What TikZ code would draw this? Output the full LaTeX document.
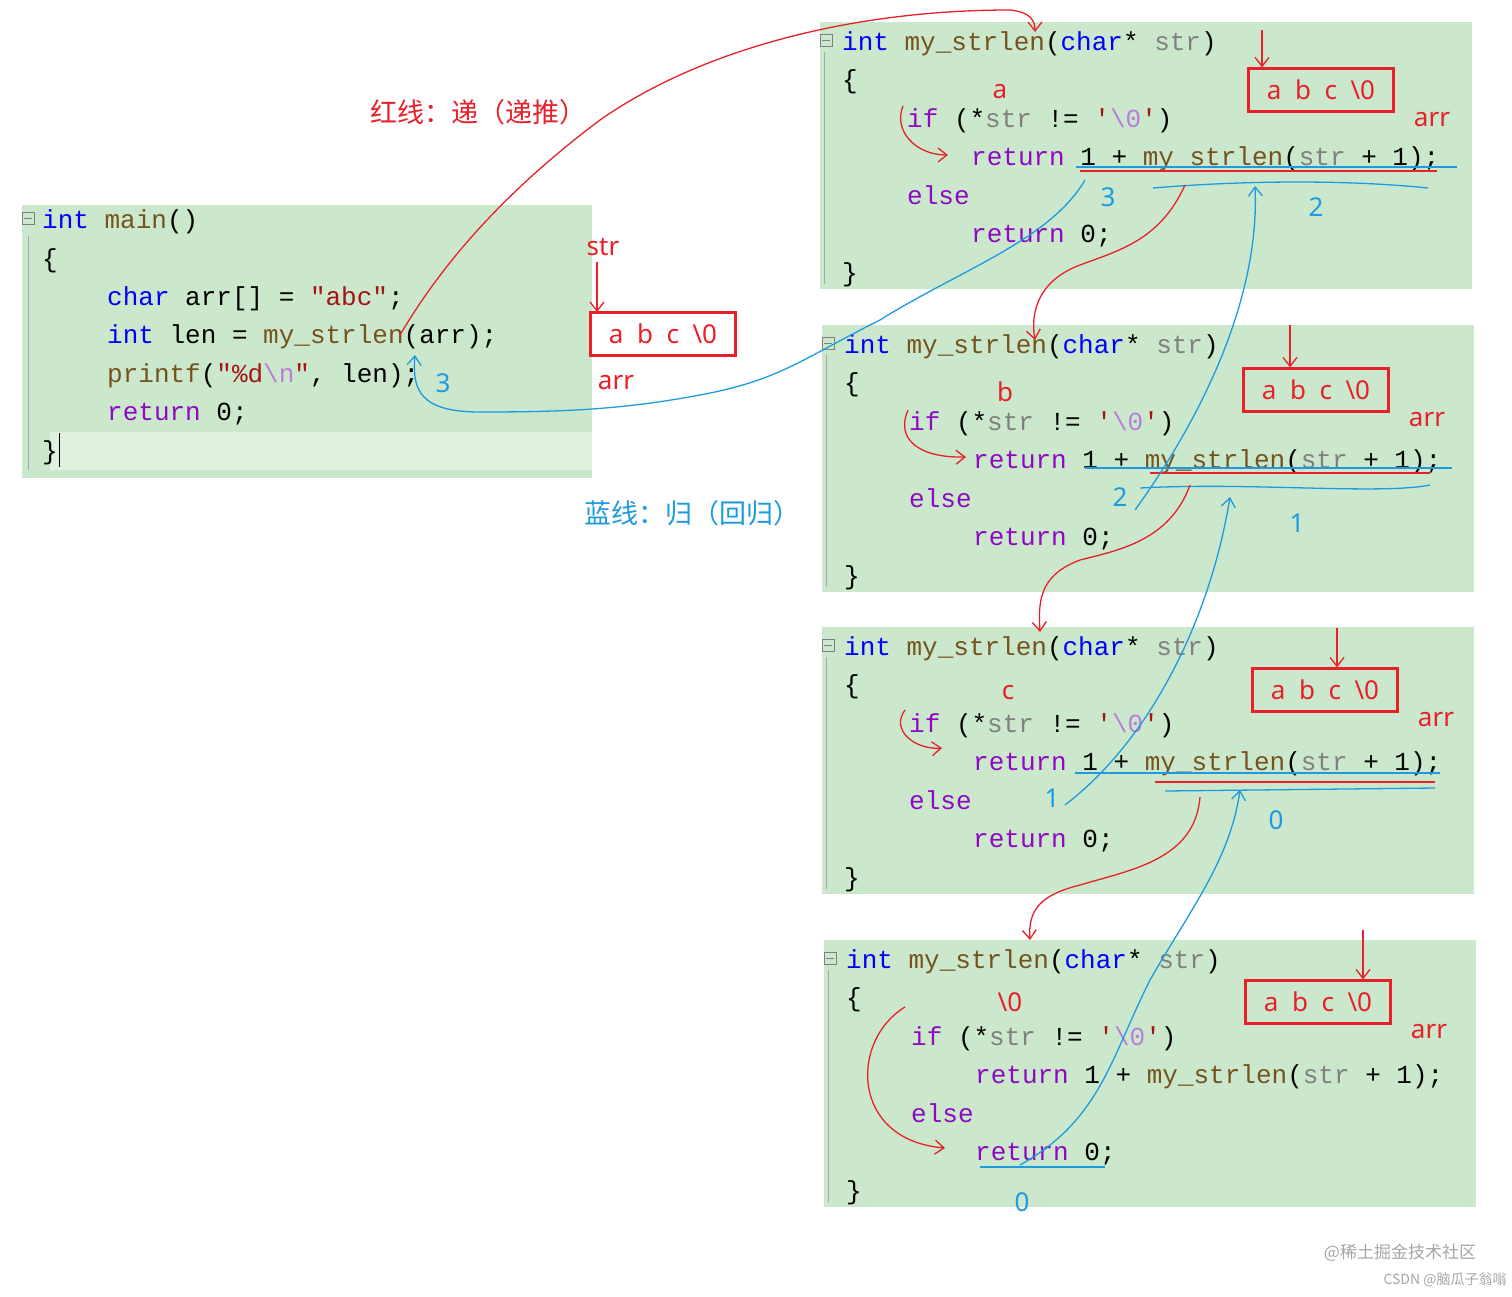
\documentclass[tikz,border=0pt]{standalone}
\usepackage{fontspec}
\setmainfont{Noto Sans}
\newfontfamily\cjk{Noto Sans CJK SC}
\newfontfamily\codef{Liberation Mono}
\usetikzlibrary{arrows.meta}
\definecolor{bg}{HTML}{CCE8CC}
\definecolor{kwc}{HTML}{0000FF}
\definecolor{ctc}{HTML}{8F08C4}
\definecolor{fnc}{HTML}{74531F}
\definecolor{prc}{HTML}{808080}
\definecolor{stc}{HTML}{A31515}
\definecolor{esc}{HTML}{B77FDB}
\definecolor{rd}{HTML}{E8202A}
\definecolor{bl}{HTML}{1E9BE0}
\newcommand\kw[1]{\textcolor{kwc}{#1}}
\newcommand\ct[1]{\textcolor{ctc}{#1}}
\newcommand\fn[1]{\textcolor{fnc}{#1}}
\newcommand\pr[1]{\textcolor{prc}{#1}}
\newcommand\stq[1]{\textcolor{stc}{#1}}
\newcommand\zq{\stq{'}\textcolor{esc}{\textbackslash 0}\stq{'}}
\tikzset{
 code/.style={anchor=base west,inner sep=0pt,font=\codef\fontsize{26}{30}\selectfont},
 panel/.style={fill=bg,draw=none},
 rl/.style={draw=rd,line width=1.3pt},
 bll/.style={draw=bl,line width=1.3pt},
 rarr/.style={rl,-{Straight Barb[length=9pt,width=14pt]}},
 barr/.style={bll,-{Straight Barb[length=9pt,width=14pt]}},
 rtxt/.style={text=rd,font=\fontsize{26}{30}\selectfont,inner sep=0pt},
 btxt/.style={text=bl,font=\fontsize{26}{30}\selectfont,inner sep=0pt},
 rbox/.style={draw=rd,line width=2.2pt,text=rd,font=\fontsize{26}{30}\selectfont,inner sep=0pt,minimum width=145pt,minimum height=43pt}
}
\newcommand\funcbox[3]{% left, top, prefix
 \fill[bg] (#1,#2) rectangle ++(652,267);
 \draw[gray!70,line width=1pt] (#1+4,#2+30) -- (#1+4,#2+262);
 \draw[gray,line width=0.8pt] (#1,#2+12) rectangle ++(12,12); \draw[gray] (#1+2,#2+18)--(#1+10,#2+18);
 \node[code] (#3l0) at (#1+22,#2+28) {\kw{int} \fn{my\_strlen}(\kw{char}* \pr{str})};
 \node[code] (#3l1) at (#1+22,#2+66.5) {\{};
 \node[code] (#3l2) at (#1+87,#2+105) {\ct{if} (*\pr{str} != \zq)};
 \node[code] (#3l3) at (#1+151,#2+143.5) {\ct{return} 1 + \fn{my\_strlen}(\pr{str} + 1);};
 \node[code] (#3l4) at (#1+87,#2+182) {\ct{else}};
 \node[code] (#3l5) at (#1+151,#2+220.5) {\ct{return} 0;};
 \node[code] (#3l6) at (#1+22,#2+259) {\}};
}
\begin{document}
\begin{tikzpicture}[x=1pt,y=-1pt]
\useasboundingbox[fill=white] (0,0) rectangle (1512,1296);
% main
\fill[bg] (22,205) rectangle (592,478);
\fill[bg!60!white] (50,432) rectangle (592,470);
\draw[gray!70,line width=1pt] (28,236) -- (28,470);
\draw[gray,line width=0.8pt] (22,212) rectangle ++(12,12); \draw[gray] (24,218)--(32,218);
\node[code] (m0) at (42,228) {\kw{int} \fn{main}()};
\node[code] (m1) at (42,267) {\{};
\node[code] (m2) at (107,305) {\kw{char} arr[] = \stq{"abc"};};
\node[code] (m3) at (107,343) {\kw{int} len = \fn{my\_strlen}(arr);};
\node[code] (m4) at (107,382) {\fn{printf}(\stq{"\%d}\textcolor{esc}{\textbackslash n}\stq{"}, len);};
\node[code] (m5) at (107,420) {\ct{return} 0;};
\node[code] (m6) at (42,459) {\}};
\draw[black,line width=1pt] (59,433)--(59,467);
\funcbox{820}{22}{a}
\funcbox{822}{325}{b}
\funcbox{822}{627}{c}
\funcbox{824}{940}{d}
% titles
\node[rtxt,font=\cjk\fontsize{27}{30}\selectfont] (t1) at (478,112) {红线：递（递推）};
\node[btxt,font=\cjk\fontsize{27}{30}\selectfont] (t2) at (692,513) {蓝线：归（回归）};
% main box arr
\node[rtxt] (strl) at (603,247) {str};
\node[rbox] (mb) at (663,334) {a\ \ b\ \ c\ \ \textbackslash 0};
\node[rtxt] (marr) at (616,383) {arr};
\draw[rarr] (strl.south -| 597,0) ++(0,6) coordinate (s0) (s0) -- (597,312);
% function red boxes
\node[rbox] (ra) at (1321,90) {a\ \ b\ \ c\ \ \textbackslash 0};
\node[rtxt] (aa) at (1432,120) {arr};
\draw[rarr] (1262,30) -- (ra.north -| 1262,0);
\node[rbox] (rb) at (1316,390) {a\ \ b\ \ c\ \ \textbackslash 0};
\node[rtxt] (ab) at (1427,420) {arr};
\draw[rarr] (1290,325) -- (rb.north -| 1290,0);
\node[rbox] (rc) at (1325,690) {a\ \ b\ \ c\ \ \textbackslash 0};
\node[rtxt] (ac) at (1436,720) {arr};
\draw[rarr] (1337,628) -- (rc.north -| 1337,0);
\node[rbox] (rdd) at (1318,1002) {a\ \ b\ \ c\ \ \textbackslash 0};
\node[rtxt] (ad) at (1429,1032) {arr};
\draw[rarr] (1363,930) -- (rdd.north -| 1363,0);
% letters
\node[rtxt] (la) at (1000,92) {a};
\node[rtxt] (lb) at (1005,392) {b};
\node[rtxt] (lc) at (1008,693) {c};
\node[rtxt] (ld) at (1010,1002) {\textbackslash 0};
% small if->return arrows
\draw[rarr] (903,106) .. controls (893,130) and (915,155) .. (948,155);
\draw[rarr] (908,410) .. controls (895,440) and (920,458) .. (966,457);
\draw[rarr] (905,710) .. controls (890,730) and (915,750) .. (942,748);
\draw[rarr] (905,1007) .. controls (850,1040) and (850,1140) .. (945,1148);
% underlines
\draw[bll] (1076,167) -- (1457,167);
\draw[rl] (1080,171) -- (1437,171);
\draw[bll] (1153,188) .. controls (1250,180) and (1350,180) .. (1428,188);
\draw[bll] (1085,468) -- (1452,468);
\draw[rl] (1150,473) -- (1430,473);
\draw[bll] (1140,488) .. controls (1250,482) and (1380,495) .. (1430,485);
\draw[bll] (1075,773) -- (1440,773);
\draw[rl] (1155,782) -- (1435,782);
\draw[bll] (1165,791) -- (1435,788);
\draw[bll] (980,1167) -- (1105,1167);
% numbers
\node[btxt] (n1) at (1108,197) {3};
\node[btxt] (n2) at (1316,207) {2};
\node[btxt] (n3) at (1120,497) {2};
\node[btxt] (n4) at (1297,523) {1};
\node[btxt] (n5) at (1052,798) {1};
\node[btxt] (n6) at (1276,820) {0};
\node[btxt] (n7) at (1022,1202) {0};
\node[btxt] (n8) at (443,383) {3};
% red recursion
\coordinate (r0) at (400,335);
\draw[rarr] (r0) .. controls (450,250) and (520,180) .. (600,120)
 .. controls (700,50) and (850,10) .. (1010,10) .. controls (1030,12) and (1035,20) .. (1035,32);
\draw[rarr] (1185,185) .. controls (1160,240) and (1120,250) .. (1080,265) .. controls (1040,280) and (1030,310) .. (1035,340);
\draw[rarr] (1190,485) .. controls (1170,540) and (1120,550) .. (1080,560) .. controls (1040,575) and (1038,600) .. (1040,632);
\draw[rarr] (1200,797) .. controls (1195,860) and (1130,870) .. (1080,885) .. controls (1040,895) and (1028,910) .. (1030,940);
% blue return
\draw[barr] (1020,1165) .. controls (1100,1120) and (1110,1060) .. (1150,980) .. controls (1190,910) and (1230,860) .. (1240,790);
\draw[barr] (1065,805) .. controls (1150,740) and (1210,620) .. (1230,497);
\draw[barr] (1135,510) .. controls (1200,420) and (1260,300) .. (1255,186);
\draw[barr] (1085,180) .. controls (1050,240) and (960,270) .. (880,320)
 .. controls (800,360) and (780,380) .. (700,395) .. controls (620,410) and (560,412) .. (480,412)
 .. controls (420,412) and (412,390) .. (415,355);
% watermark
\node[text=gray!70,font=\cjk\fontsize{17}{20}\selectfont,inner sep=0pt] (w1) at (1400,1253) {@稀土掘金技术社区};
\node[text=gray!70,font=\cjk\fontsize{14}{16}\selectfont,inner sep=0pt] (w2) at (1445,1280) {CSDN @脑瓜子翁嗡};
\end{tikzpicture}
\end{document}
